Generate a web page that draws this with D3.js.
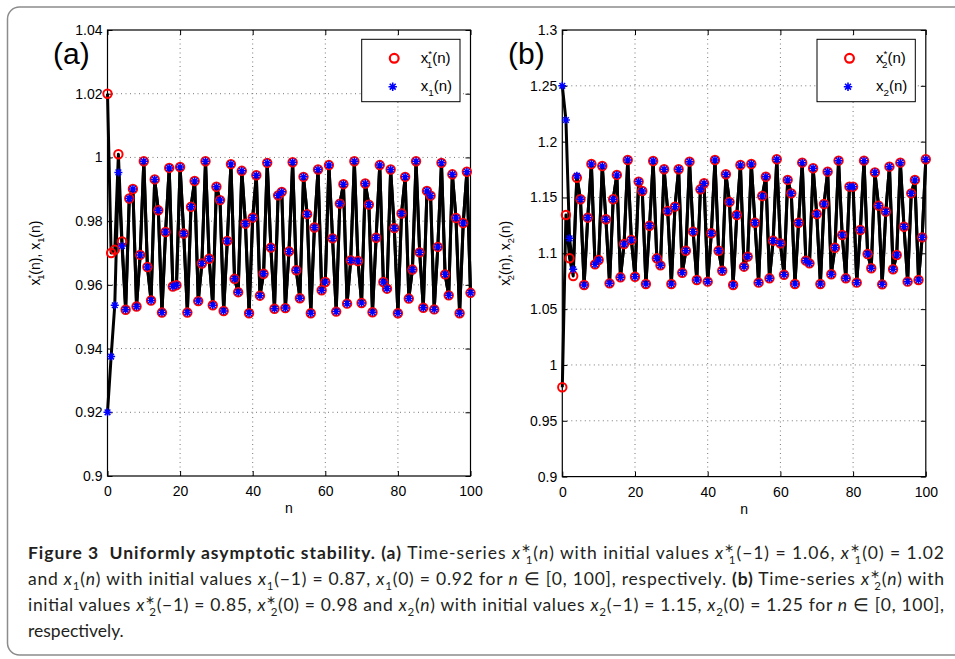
<!DOCTYPE html>
<html>
<head>
<meta charset="utf-8">
<script src="https://cdn.jsdelivr.net/npm/d3@7"></script>
<style>
body { margin: 0; background: #fff; }
svg text { font-family: "Liberation Sans", Arial, Helvetica, sans-serif; white-space: pre; }
</style>
</head>
<body>
<svg id="fig" width="955" height="659"></svg>
<script>
// n = 0..100
var nValues = d3.range(0, 101);
var nTicks = [0, 20, 40, 60, 80, 100];

// panel (a): x1*(n) and x1(n)
var x1Star = [1.02, 0.970, 0.971, 1.001, 0.9736, 0.9522, 0.9871, 0.9901, 0.9532, 0.9694,
  0.9988, 0.9656, 0.9551, 0.9931, 0.9834, 0.9513, 0.9766, 0.9967, 0.9595, 0.9599,
  0.9970, 0.9761, 0.9513, 0.9845, 0.9926, 0.9549, 0.9667, 0.9988, 0.9682, 0.9536,
  0.9908, 0.9866, 0.9518, 0.9738, 0.9979, 0.9619, 0.9577, 0.9958, 0.9792, 0.9511,
  0.9811, 0.9944, 0.9566, 0.9635, 0.9983, 0.9717, 0.9525, 0.9881, 0.9892, 0.9527,
  0.9705, 0.9985, 0.9646, 0.9558, 0.9939, 0.9822, 0.9511, 0.9780, 0.9962, 0.9583,
  0.9609, 0.9976, 0.9746, 0.9516, 0.9855, 0.9916, 0.9541, 0.9677, 0.9988, 0.9675,
  0.9543, 0.9918, 0.9852, 0.9514, 0.9748, 0.9976, 0.9609, 0.9588, 0.9962, 0.9778,
  0.9511, 0.9824, 0.9939, 0.9557, 0.9648, 0.9988, 0.9702, 0.9528, 0.9895, 0.9880,
  0.9523, 0.9719, 0.9983, 0.9633, 0.9567, 0.9947, 0.9810, 0.9511, 0.9794, 0.9955,
  0.9575];
// x1(n) differs only at the start, then sits on x1*(n)
var x1Head = [0.92, 0.9375, 0.9536, 0.9953, 0.9722];
var x1 = x1Head.concat(x1Star.slice(x1Head.length));
var yTicksA = [0.9, 0.92, 0.94, 0.96, 0.98, 1, 1.02, 1.04];

// panel (b): x2*(n) and x2(n)
var x2Star = [0.98, 1.1343, 1.0955, 1.0797, 1.1677, 1.1484, 1.0716, 1.1319, 1.18, 1.0901,
  1.094, 1.1782, 1.1305, 1.0731, 1.1484, 1.1702, 1.0785, 1.1083, 1.1836, 1.112,
  1.079, 1.1642, 1.1558, 1.0725, 1.1247, 1.1827, 1.0955, 1.0892, 1.1753, 1.1379,
  1.0725, 1.1418, 1.1753, 1.0826, 1.1023, 1.1821, 1.1194, 1.0761, 1.1573, 1.1627,
  1.0746, 1.1179, 1.1836, 1.1023, 1.0844, 1.1708, 1.146, 1.0716, 1.1343, 1.1791,
  1.088, 1.097, 1.18, 1.1274, 1.0737, 1.1513, 1.1686, 1.0776, 1.1113, 1.1842,
  1.1089, 1.0808, 1.1657, 1.1537, 1.0725, 1.1274, 1.1812, 1.0934, 1.091, 1.1762,
  1.1352, 1.0725, 1.1442, 1.1731, 1.0812, 1.105, 1.183, 1.1164, 1.0776, 1.1597,
  1.1597, 1.0737, 1.1209, 1.183, 1.0994, 1.0866, 1.1725, 1.1427, 1.0722, 1.1373,
  1.1776, 1.0857, 1.0985, 1.1812, 1.1238, 1.0746, 1.1537, 1.1657, 1.0761, 1.1143,
  1.1842];
var x2Head = [1.25, 1.2194, 1.1134, 1.0857, 1.1695];
var x2 = x2Head.concat(x2Star.slice(x2Head.length));
var yTicksB = [0.9, 0.95, 1, 1.05, 1.1, 1.15, 1.2, 1.25, 1.3];

var svg = d3.select("#fig");

// writes text with italic x, stacked * superscript and subscript index
function rich(text, segs, fs, starGlyph) {
  var off = 0;
  function add(str, o) {
    o = o || {};
    var t = text.append("tspan").text(str);
    var target = o.shift || 0;
    if (target !== off) { t.attr("dy", target - off); off = target; }
    if (o.dx) t.attr("dx", o.dx);
    if (o.size) t.style("font-size", o.size + "px");
    if (o.italic) t.style("font-style", "italic");
    if (o.bold) t.style("font-weight", "bold");
    return t;
  }
  segs.forEach(function(s) {
    if (s[0] === "v") {
      add(s[1], {italic: s[4] !== false});
      if (s[3]) {
        add(starGlyph || "*", {shift: -0.4 * fs, size: 0.66 * fs});
        add(s[2], {shift: 0.3 * fs, size: 0.66 * fs, dx: -0.36 * fs});
      } else {
        add(s[2], {shift: 0.3 * fs, size: 0.66 * fs});
      }
    } else {
      add(s[1], {italic: s[0] === "i", bold: s[0] === "b"});
    }
  });
  return text;
}

function starPath(r) {
  var d = "", a = r * Math.SQRT1_2;
  d += "M" + (-r) + ",0L" + r + ",0";
  d += "M0," + (-r) + "L0," + r;
  d += "M" + (-a) + "," + (-a) + "L" + a + "," + a;
  d += "M" + (-a) + "," + a + "L" + a + "," + (-a);
  return d;
}

// outer figure frame
svg.append("rect")
  .attr("x", 7.5).attr("y", 7).attr("width", 1000).attr("height", 648)
  .attr("rx", 12)
  .attr("fill", "none").attr("stroke", "#8c8c8c").attr("stroke-width", 1.5);

var panels = [
  {left: 107.5, right: 470.5, top: 30, bottom: 476, yDomain: [0.9, 1.04], yTicks: yTicksA,
   star: x1Star, plain: x1, tag: "(a)", tagX: 53, idx: "1", labelX: 40},
  {left: 562.3, right: 925.8, top: 30, bottom: 476.6, yDomain: [0.9, 1.3], yTicks: yTicksB,
   star: x2Star, plain: x2, tag: "(b)", tagX: 508, idx: "2", labelX: 510}
];

panels.forEach(function(p) {
  var g = svg.append("g");
  var x = d3.scaleLinear().domain([0, 100]).range([p.left, p.right]);
  var y = d3.scaleLinear().domain(p.yDomain).range([p.bottom, p.top]);
  var fmt = function(d) { return String(+d.toFixed(2)); };

  // dotted grid
  g.selectAll(".gx").data(nTicks.slice(1, -1)).enter().append("line")
    .attr("x1", function(d) { return x(d); }).attr("x2", function(d) { return x(d); })
    .attr("y1", p.top).attr("y2", p.bottom)
    .attr("stroke", "#777").attr("stroke-width", 1).attr("stroke-dasharray", "1,3.5");
  g.selectAll(".gy").data(p.yTicks.slice(1, -1)).enter().append("line")
    .attr("y1", function(d) { return y(d); }).attr("y2", function(d) { return y(d); })
    .attr("x1", p.left).attr("x2", p.right)
    .attr("stroke", "#777").attr("stroke-width", 1).attr("stroke-dasharray", "1,3.5");

  // axes, ticks inside like matlab
  var bottom = g.append("g").attr("transform", "translate(0," + p.bottom + ")")
    .call(d3.axisBottom(x).tickValues(nTicks).tickSizeInner(-5).tickSizeOuter(0).tickPadding(10));
  var left = g.append("g").attr("transform", "translate(" + p.left + ",0)")
    .call(d3.axisLeft(y).tickValues(p.yTicks).tickFormat(fmt).tickSizeInner(-5).tickSizeOuter(0).tickPadding(5));
  var top = g.append("g").attr("transform", "translate(0," + p.top + ")")
    .call(d3.axisTop(x).tickValues(nTicks).tickFormat("").tickSizeInner(-5).tickSizeOuter(0));
  var right = g.append("g").attr("transform", "translate(" + p.right + ",0)")
    .call(d3.axisRight(y).tickValues(p.yTicks).tickFormat("").tickSizeInner(-5).tickSizeOuter(0));
  [bottom, left, top, right].forEach(function(a) {
    a.select(".domain").remove();
    a.selectAll("line").attr("stroke", "#000");
    a.selectAll("text").style("font-size", "14px").attr("fill", "#000")
      .style("font-family", "'Liberation Sans', Arial, sans-serif");
  });

  g.append("rect")
    .attr("x", p.left).attr("y", p.top)
    .attr("width", p.right - p.left).attr("height", p.bottom - p.top)
    .attr("fill", "none").attr("stroke", "#000").attr("stroke-width", 1.2);

  // series lines
  var line = d3.line().x(function(d, i) { return x(nValues[i]); }).y(function(d) { return y(d); });
  [p.plain, p.star].forEach(function(s) {
    g.append("path").attr("d", line(s))
      .attr("fill", "none").attr("stroke", "#000").attr("stroke-width", 3)
      .attr("stroke-linejoin", "round");
  });

  g.selectAll(".mk-o").data(p.star).enter().append("circle")
    .attr("cx", function(d, i) { return x(nValues[i]); })
    .attr("cy", function(d) { return y(d); })
    .attr("r", 4.2)
    .attr("fill", "none").attr("stroke", "#ff0000").attr("stroke-width", 2);
  g.selectAll(".mk-s").data(p.plain).enter().append("path")
    .attr("transform", function(d, i) { return "translate(" + x(nValues[i]) + "," + y(d) + ")"; })
    .attr("d", starPath(4))
    .attr("fill", "none").attr("stroke", "#0000ff").attr("stroke-width", 1.5);

  // axis titles
  g.append("text").attr("x", (p.left + p.right) / 2).attr("y", p.bottom + 37)
    .attr("text-anchor", "middle").style("font-size", "14px").text("n");
  rich(g.append("text")
    .attr("transform", "translate(" + p.labelX + "," + ((p.top + p.bottom) / 2) + ") rotate(-90)")
    .attr("text-anchor", "middle").style("font-size", "14px"),
    [["v", "x", p.idx, 1, false], ["r", "(n), "], ["v", "x", p.idx, 0, false], ["r", "(n)"]], 14);

  g.append("text").attr("x", p.tagX).attr("y", 64).style("font-size", "30px").text(p.tag);

  // legend
  var lg = g.append("g").attr("transform", "translate(" + (p.right - 108.8) + "," + (p.top + 9.3) + ")");
  lg.append("rect").attr("width", 98.3).attr("height", 62.4)
    .attr("fill", "#fff").attr("stroke", "#000").attr("stroke-width", 1);
  lg.append("circle").attr("cx", 32.5).attr("cy", 19).attr("r", 4.4)
    .attr("fill", "none").attr("stroke", "#ff0000").attr("stroke-width", 2.2);
  lg.append("path").attr("transform", "translate(31,47.4)").attr("d", starPath(4.2))
    .attr("fill", "none").attr("stroke", "#0000ff").attr("stroke-width", 1.6);
  rich(lg.append("text").attr("x", 59).attr("y", 24).style("font-size", "15px"),
    [["v", "x", p.idx, 1, false], ["r", "(n)"]], 15);
  rich(lg.append("text").attr("x", 59).attr("y", 52).style("font-size", "15px"),
    [["v", "x", p.idx, 0, false], ["r", "(n)"]], 15);
});

// caption
var caption = [
  [["b", "Figure 3  Uniformly asymptotic stability. (a) "], ["r", "Time-series "], ["v", "x", "1", 1], ["r", "("], ["i", "n"],
   ["r", ") with initial values "], ["v", "x", "1", 1], ["r", "(−1) = 1.06, "], ["v", "x", "1", 1], ["r", "(0) = 1.02"]],
  [["r", "and "], ["v", "x", "1", 0], ["r", "("], ["i", "n"], ["r", ") with initial values "], ["v", "x", "1", 0],
   ["r", "(−1) = 0.87, "], ["v", "x", "1", 0], ["r", "(0) = 0.92 for "], ["i", "n"], ["r", " ∈ [0, 100], respectively. "],
   ["b", "(b)"], ["r", " Time-series "], ["v", "x", "2", 1], ["r", "("], ["i", "n"], ["r", ") with"]],
  [["r", "initial values "], ["v", "x", "2", 1], ["r", "(−1) = 0.85, "], ["v", "x", "2", 1], ["r", "(0) = 0.98 and "],
   ["v", "x", "2", 0], ["r", "("], ["i", "n"], ["r", ") with initial values "], ["v", "x", "2", 0], ["r", "(−1) = 1.15, "],
   ["v", "x", "2", 0], ["r", "(0) = 1.25 for "], ["i", "n"], ["r", " ∈ [0, 100],"]],
  [["r", "respectively."]]
];
var capFont = "Lato, 'Open Sans', sans-serif";
var capWidth = 916;

function drawCaption(fs) {
  svg.selectAll(".cap").remove();
  return caption.map(function(segs, i) {
    var t = svg.append("text").attr("class", "cap").attr("x", 28).attr("y", 559 + i * 26)
      .style("font-family", capFont).style("font-size", fs + "px").attr("fill", "#231f20");
    rich(t, segs, fs, "∗");
    return t;
  });
}
// pick the biggest size that keeps the justified lines inside the width
var fs = 17.5;
var lens = drawCaption(fs).slice(0, 3).map(function(t) { return t.node().getComputedTextLength(); });
fs = Math.min(17.5, fs * capWidth / d3.max(lens) * 0.995);
drawCaption(fs).forEach(function(t, i) {
  if (i < caption.length - 1) t.attr("textLength", capWidth).attr("lengthAdjust", "spacing");
});
</script>
</body>
</html>
